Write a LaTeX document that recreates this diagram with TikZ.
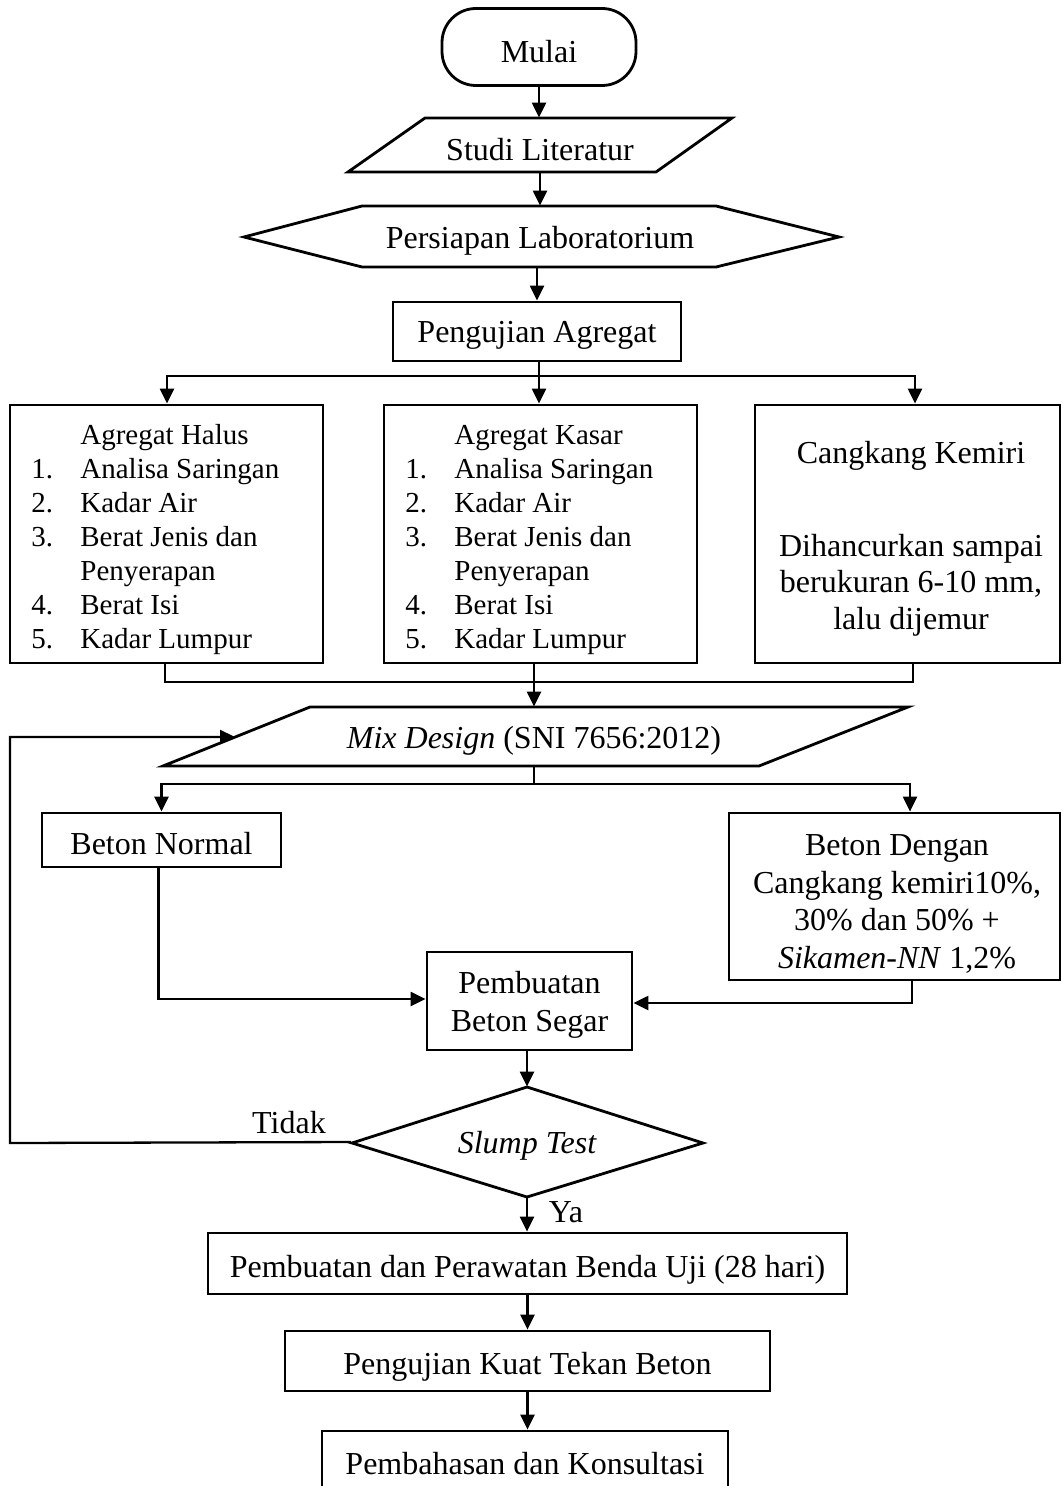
\documentclass[tikz,border=0pt]{standalone}
\usepackage{fontspec}
\setmainfont{Liberation Serif}
\usetikzlibrary{arrows.meta,calc}
\newcommand\dn[2][2pt]{\raisebox{-#1}[\height][\depth]{#2}}
\begin{document}
\begin{tikzpicture}[x=0.5pt,y=-0.5pt,
  font=\fontsize{16pt}{19pt}\selectfont,
  box/.style={draw, line width=1.4pt, inner sep=0pt, align=center},
  shp/.style={draw, line width=1.4pt, line join=miter},
  txt/.style={inner sep=0pt, align=center},
  arr/.style={-{Triangle[length=7.5pt,width=7pt]}, line width=1.15pt},
  ln/.style={line width=1.15pt}]
\useasboundingbox (0,0) rectangle (1062,1486);

% Mulai
\node[box, rounded corners=17pt, minimum width=97pt, minimum height=38.5pt] (mulai) at (539,47) {\dn[2.5pt]{Mulai}};

% Studi Literatur (parallelogram)
\draw[shp] (425,118) -- (732,118) -- (656,172) -- (348,172) -- cycle;
\node[txt, minimum height=27pt] (studi) at (540,145) {\dn[2.5pt]{Studi Literatur}};

% Persiapan Laboratorium (hexagon)
\draw[shp] (244,237) -- (362,206) -- (716,206) -- (839,237) -- (716,267) -- (362,267) -- cycle;
\node[txt, minimum height=30.5pt] (persiapan) at (540,236.5) {\dn{Persiapan Laboratorium}};

% Pengujian Agregat
\node[box, minimum width=144pt, minimum height=29.5pt] (peng) at (537,331.5) {\dn{Pengujian Agregat}};

% three boxes
\node[box, minimum width=156.5pt, minimum height=129pt] (halus) at (166.5,534) {};
\node[box, minimum width=156.5pt, minimum height=129pt] (kasar) at (540.5,534) {};
\node[box, minimum width=152.5pt, minimum height=129pt] (kemiri) at (907.5,534) {};

\node[txt, anchor=west, align=left, font=\fontsize{14.5pt}{17pt}\selectfont] (halustxt) at (31,540)
 {\begin{tabular}{@{}p{24.5pt}@{}l@{}}
   & Agregat Halus\\
  1. & Analisa Saringan\\
  2. & Kadar Air\\
  3. & Berat Jenis dan\\
     & Penyerapan\\
  4. & Berat Isi\\
  5. & Kadar Lumpur
 \end{tabular}};
\node[txt, anchor=west, align=left, font=\fontsize{14.5pt}{17pt}\selectfont] (kasartxt) at (405,540)
 {\begin{tabular}{@{}p{24.5pt}@{}l@{}}
   & Agregat Kasar\\
  1. & Analisa Saringan\\
  2. & Kadar Air\\
  3. & Berat Jenis dan\\
     & Penyerapan\\
  4. & Berat Isi\\
  5. & Kadar Lumpur
 \end{tabular}};
\node[txt, font=\fontsize{16pt}{18.25pt}\selectfont] (kemiritxt) at (911,539)
 {Cangkang Kemiri\\[28pt]Dihancurkan sampai\\berukuran 6-10 mm,\\lalu dijemur};

% Mix design (parallelogram)
\draw[shp] (310,707) -- (908,707) -- (759,766) -- (163,766) -- cycle;
\node[txt, minimum height=29.5pt] (mix) at (534,736.5) {\dn{\itshape Mix Design\upshape\ (SNI 7656:2012)}};
\coordinate (fb) at (235,737);

% Beton Normal & Beton Dengan
\node[box, minimum width=119.5pt, minimum height=27pt] (normal) at (161.5,840) {\dn{Beton Normal}};
\node[box, minimum width=165.5pt, minimum height=83.5pt] (dengan) at (894.5,896.5) {};
\node[txt, font=\fontsize{16pt}{18.75pt}\selectfont] (dengantxt) at (897,904)
 {Beton Dengan\\Cangkang kemiri10\%,\\30\% dan 50\% +\\\textit{Sikamen-NN} 1,2\%};

% Pembuatan Beton Segar
\node[box, minimum width=102.5pt, minimum height=49pt] (pemb) at (529.5,1001) {};
\node[txt] (pembtxt) at (529.5,1005) {Pembuatan\\Beton Segar};

% Slump test (diamond)
\draw[shp] (527,1087) -- (703,1143) -- (527,1197) -- (352,1143) -- cycle;
\node[txt, minimum width=175.5pt, minimum height=55pt] (slump) at (527,1142) {\dn{\itshape Slump Test}};
\node[txt] (tidak) at (289,1123) {Tidak};
\node[txt] (ya) at (566,1212) {Ya};

% lower boxes
\node[box, minimum width=319.5pt, minimum height=30.5pt] (rawat) at (527.5,1263.5) {\dn[3pt]{Pembuatan dan Perawatan Benda Uji (28 hari)}};
\node[box, minimum width=242.5pt, minimum height=30pt] (kuat) at (527.5,1361) {\dn[3pt]{Pengujian Kuat Tekan Beton}};
\node[box, minimum width=203pt, minimum height=32.5pt] (bahas) at (525,1463.5) {Pembahasan dan Konsultasi};

% connectors
\draw[arr] (mulai.south) -- (mulai.south |- studi.north);
\draw[arr] (studi.south) -- (studi.south |- persiapan.north);
\draw[arr] (persiapan.south -| peng.north) -- (peng.north);

\coordinate (ja) at (539,376);
\draw[ln] (peng.south -| ja) -- (ja);
\draw[arr] (ja) -| ([xshift=0.25pt]halus.north);
\draw[arr] (ja) -- (ja |- kasar.north);
\draw[arr] (ja) -| ([xshift=3.75pt]kemiri.north);

\coordinate (jb) at (534,682);
\draw[ln] ([xshift=-0.75pt]halus.south) |- (jb);
\draw[ln] ([xshift=2.75pt]kemiri.south) |- (jb);
\draw[ln] (kasar.south -| jb) -- (jb);
\draw[arr] (jb) -- (jb |- mix.north);

\coordinate (jc) at (534,784);
\draw[ln] (mix.south -| jc) -- (jc);
\draw[arr] (jc) -| (normal.north);
\draw[arr] (jc) -| ([xshift=7.75pt]dengan.north);

\draw[arr] ([xshift=-1.5pt]normal.south) |- ([yshift=1pt]pemb.west);
\draw[arr] ([xshift=8.75pt]dengan.south) |- ([yshift=-1pt]pemb.east);
\draw[arr] (slump.north |- pemb.south) -- (slump.north);
\draw[arr] (slump.west) -- (10,1143) |- (fb);
\draw[arr] (slump.south) -- (slump.south |- rawat.north);
\draw[arr] (rawat.south) -- (rawat.south |- kuat.north);
\draw[arr] (kuat.south) -- (kuat.south |- bahas.north);
\end{tikzpicture}
\end{document}
